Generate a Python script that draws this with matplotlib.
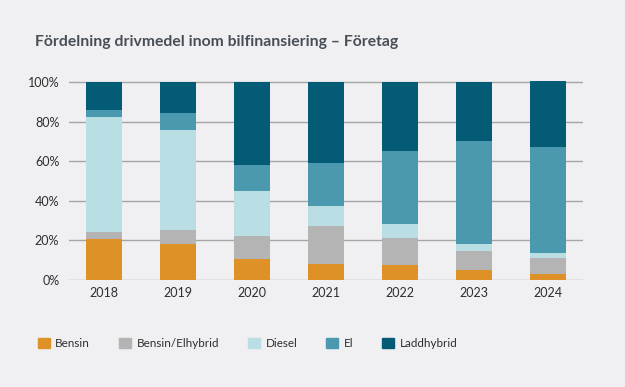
import numpy as np
import matplotlib.pyplot as plt
from matplotlib.patches import Patch

years = ['2018', '2019', '2020', '2021', '2022', '2023', '2024']
bensin = [20.6, 18.0, 10.5, 7.9, 7.4, 4.9, 2.9]
bensin_elhybrid = [3.5, 7.3, 11.6, 19.3, 13.7, 9.6, 8.1]
diesel = [58.4, 50.4, 22.9, 10.1, 7.1, 3.5, 2.5]
el = [3.5, 8.6, 13.2, 21.7, 36.9, 52.2, 53.8]
laddhybrid = [14.0, 15.7, 41.8, 41.0, 34.9, 29.8, 33.2]

series = [('Bensin', bensin, '#DD9126'),
          ('Bensin/Elhybrid', bensin_elhybrid, '#B4B4B4'),
          ('Diesel', diesel, '#B9DEE4'),
          ('El', el, '#4A99AE'),
          ('Laddhybrid', laddhybrid, '#035B76')]

bg = '#F0F0F3'
txt = '#2E2E2E'
plt.rcParams['font.family'] = ['Lato', 'DejaVu Sans']

fig = plt.figure(figsize=(6.25, 3.87), dpi=100, facecolor=bg)
ax = fig.add_axes([0.1104, 0.2765, 0.8224, 0.516])
ax.set_facecolor(bg)

x = np.arange(len(years))
bottom = np.zeros(len(years))
for name, vals, col in series:
    ax.bar(x, vals, width=0.49, bottom=bottom, color=col, label=name, zorder=2)
    bottom += np.array(vals)

ax.set_xlim(-0.47, 6.47)
ax.set_ylim(0, 101)
ax.set_yticks(np.arange(0, 101, 20))
ax.set_yticklabels([f'{v}%' for v in range(0, 101, 20)])
ax.set_xticks(x)
ax.set_xticklabels(years)
ax.grid(axis='y', color='#A5A5A5', linewidth=1, zorder=0)
for s in ax.spines.values():
    s.set_visible(False)
ax.tick_params(length=0, labelsize=9, colors=txt)
ax.tick_params(axis='y', pad=7)
ax.tick_params(axis='x', pad=5)

fig.text(0.056, 0.892, 'Fördelning drivmedel inom bilfinansiering – Företag',
         fontsize=11.3, fontweight='bold', color='#474E55', va='center')

handles = [Patch(color=col, label=name) for name, vals, col in series]
fig.legend(handles=handles, loc='center left', bbox_to_anchor=(0.044, 0.113), ncol=5,
           frameon=False, fontsize=8.4, handlelength=1.03, handleheight=1.03,
           handletextpad=0.45, columnspacing=2.5, labelcolor=txt)

fig.savefig('out.png', dpi=100, facecolor=bg)
